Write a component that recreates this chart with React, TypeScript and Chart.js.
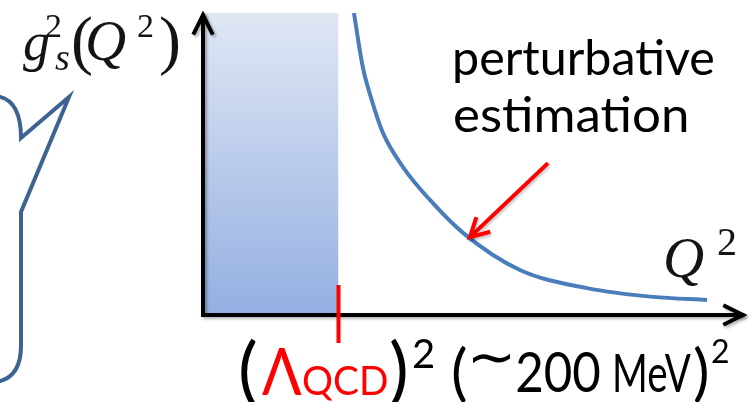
import React, { useEffect, useRef } from "react";
import { Chart, registerables } from "chart.js";

Chart.register(...registerables);

const W = 752;
const H = 402;

// Axis domain (arbitrary units of Q² and g_s²)
const X_RANGE = [0, 4];
const Y_RANGE = [0, 10];

// Position of the confinement scale (Λ_QCD)² on the Q² axis
const LAMBDA_QCD_SQ = 1;

// Running coupling g_s²(Q²) in the perturbative region
const curveQ2 = [1.114, 1.179, 1.245, 1.328, 1.476, 1.675, 1.919, 2.339, 2.834, 3.321, 3.72];
const curveG2 = [10.0, 8.22, 7.12, 6.03, 4.9, 3.81, 2.72, 1.49, 0.89, 0.6, 0.5];

// Annotation arrow pointing onto the curve (Q², g_s²)
const arrowFrom = [2.546, 5.03];
const arrowTo = [1.97, 2.58];

const noteLines = ["perturbative", "estimation"];

const CALIBRI = "Lato, 'Open Sans', sans-serif";
const SERIF = "'Liberation Serif', 'DejaVu Serif', serif";

// Draws text with its ink starting at x; optionally squeezes it to a given ink width.
function put(
  ctx: CanvasRenderingContext2D,
  text: string,
  x: number,
  base: number,
  font: string,
  color: string,
  width?: number
) {
  ctx.save();
  ctx.font = font;
  ctx.fillStyle = color;
  ctx.textAlign = "left";
  ctx.textBaseline = "alphabetic";
  const m = ctx.measureText(text);
  const ink = m.actualBoundingBoxLeft + m.actualBoundingBoxRight;
  ctx.translate(x, base);
  if (width && ink > 0) ctx.scale(width / ink, 1);
  ctx.fillText(text, m.actualBoundingBoxLeft, 0);
  ctx.restore();
}

function chevron(ctx: CanvasRenderingContext2D, tx: number, ty: number, ang: number, len: number, spread: number) {
  const a1 = ang + Math.PI - spread;
  const a2 = ang + Math.PI + spread;
  ctx.beginPath();
  ctx.moveTo(tx + len * Math.cos(a1), ty + len * Math.sin(a1));
  ctx.lineTo(tx, ty);
  ctx.lineTo(tx + len * Math.cos(a2), ty + len * Math.sin(a2));
  ctx.stroke();
}

const decorPlugin = {
  id: "decor",
  afterDatasetsDraw(chart: any) {
    const ctx: CanvasRenderingContext2D = chart.ctx;
    const area = chart.chartArea;
    const xs = chart.scales.x;
    const ys = chart.scales.y;
    const x0 = xs.getPixelForValue(X_RANGE[0]);
    const y0 = ys.getPixelForValue(Y_RANGE[0]);

    // axes with open arrowheads
    ctx.save();
    ctx.strokeStyle = "#000";
    ctx.lineWidth = 4;
    ctx.lineJoin = "miter";
    ctx.lineCap = "butt";
    ctx.shadowColor = "rgba(0,0,0,0.3)";
    ctx.shadowBlur = 3;
    ctx.shadowOffsetX = 2;
    ctx.shadowOffsetY = 2;
    ctx.beginPath();
    ctx.moveTo(x0, y0 + 2);
    ctx.lineTo(x0, area.top + 1);
    ctx.moveTo(x0 - 2, y0);
    ctx.lineTo(area.right - 1, y0);
    ctx.stroke();
    chevron(ctx, x0, area.top + 2, -Math.PI / 2, 22, 0.46);
    chevron(ctx, area.right - 2, y0, 0, 22, 0.46);
    ctx.restore();

    // (Λ_QCD)² tick
    const lx = xs.getPixelForValue(LAMBDA_QCD_SQ);
    ctx.save();
    ctx.strokeStyle = "#ff0000";
    ctx.lineWidth = 4;
    ctx.beginPath();
    ctx.moveTo(lx, y0 - 30);
    ctx.lineTo(lx, y0 + 28);
    ctx.stroke();
    ctx.restore();

    // red arrow onto the curve
    const fx = xs.getPixelForValue(arrowFrom[0]);
    const fy = ys.getPixelForValue(arrowFrom[1]);
    const tx = xs.getPixelForValue(arrowTo[0]);
    const ty = ys.getPixelForValue(arrowTo[1]);
    ctx.save();
    ctx.strokeStyle = "#ff0000";
    ctx.lineWidth = 4;
    ctx.lineCap = "butt";
    ctx.lineJoin = "miter";
    ctx.shadowColor = "rgba(0,0,0,0.25)";
    ctx.shadowBlur = 3;
    ctx.shadowOffsetX = 1;
    ctx.shadowOffsetY = 2;
    ctx.beginPath();
    ctx.moveTo(fx, fy);
    ctx.lineTo(tx, ty);
    ctx.stroke();
    chevron(ctx, tx, ty, Math.atan2(ty - fy, tx - fx), 21, 0.5);
    ctx.restore();

    // speech bubble outline on the left
    ctx.save();
    ctx.strokeStyle = "#3d6391";
    ctx.lineWidth = 4;
    ctx.lineJoin = "miter";
    ctx.beginPath();
    ctx.moveTo(-4, 96);
    ctx.quadraticCurveTo(21, 99, 21, 138);
    ctx.lineTo(69, 97);
    ctx.lineTo(21, 212);
    ctx.lineTo(21, 346);
    ctx.quadraticCurveTo(21, 378, -4, 382);
    ctx.stroke();
    ctx.restore();
  },
  afterDraw(chart: any) {
    const ctx: CanvasRenderingContext2D = chart.ctx;

    // axis label g_s²(Q²)
    const ink = "#141414";
    put(ctx, "g", 23, 60, `italic 54px ${SERIF}`, ink);
    put(ctx, "2", 46, 37, `34px ${SERIF}`, ink);
    put(ctx, "s", 55, 70, `italic 38px ${SERIF}`, ink);
    put(ctx, "(", 73, 62, `66px ${SERIF}`, ink);
    put(ctx, "Q", 88, 60, `italic 57px ${SERIF}`, ink);
    put(ctx, "2", 138, 37, `34px ${SERIF}`, ink);
    put(ctx, ")", 161, 62, `66px ${SERIF}`, ink);

    // axis label Q²
    put(ctx, "Q", 666, 277, `italic 57px ${SERIF}`, ink);
    put(ctx, "2", 718, 255, `40px ${SERIF}`, ink);

    // note text
    put(ctx, noteLines[0], 455, 75, `49px ${CALIBRI}`, "#000", 258);
    put(ctx, noteLines[1], 455, 132, `49px ${CALIBRI}`, "#000", 232);

    // (Λ_QCD)² (∼200 MeV)²
    put(ctx, "(", 241, 396, `74px ${CALIBRI}`, "#000");
    put(ctx, "Λ", 262, 395, `66px ${CALIBRI}`, "#ff0000", 40);
    put(ctx, "QCD", 303, 395, `40px ${CALIBRI}`, "#ff0000", 84);
    put(ctx, ")", 391, 396, `74px ${CALIBRI}`, "#000");
    put(ctx, "2", 413, 368, `40px ${CALIBRI}`, "#000", 20);

    put(ctx, "(", 453, 394, `62px ${CALIBRI}`, "#000");
    put(ctx, "∼", 472, 376, `56px 'DejaVu Sans', sans-serif`, "#000", 38);
    put(ctx, "200", 517, 392, `57px ${CALIBRI}`, "#000", 83);
    put(ctx, "MeV", 615, 392, `53px ${CALIBRI}`, "#000", 76);
    put(ctx, ")", 694, 394, `62px ${CALIBRI}`, "#000");
    put(ctx, "2", 712, 363, `32px ${CALIBRI}`, "#000", 16);
  },
};

export default function App() {
  const canvasRef = useRef<HTMLCanvasElement | null>(null);

  useEffect(() => {
    const canvas = canvasRef.current;
    if (!canvas) return;

    const curve = curveQ2.map((q, i) => ({ x: q, y: curveG2[i] }));
    const region = [
      { x: X_RANGE[0], y: Y_RANGE[1] },
      { x: LAMBDA_QCD_SQ, y: Y_RANGE[1] },
    ];

    const chart = new Chart(canvas, {
      type: "scatter",
      data: {
        datasets: [
          {
            data: region,
            showLine: true,
            fill: "origin",
            borderWidth: 0,
            borderColor: "rgba(0,0,0,0)",
            pointRadius: 0,
            backgroundColor: (c: any) => {
              const area = c.chart.chartArea;
              if (!area) return "#c0cfee";
              const g = c.chart.ctx.createLinearGradient(0, area.top, 0, area.bottom);
              g.addColorStop(0, "#e0e7f4");
              g.addColorStop(1, "#94afe2");
              return g;
            },
          },
          {
            data: curve,
            showLine: true,
            borderColor: "#4a7ebb",
            borderWidth: 4,
            pointRadius: 0,
            cubicInterpolationMode: "monotone",
            fill: false,
          },
        ],
      },
      options: {
        animation: false,
        responsive: false,
        devicePixelRatio: 1,
        layout: { padding: { left: 203, right: 7, top: 13, bottom: 87 } },
        plugins: { legend: { display: false }, tooltip: { enabled: false } },
        scales: {
          x: { type: "linear", min: X_RANGE[0], max: X_RANGE[1], display: false },
          y: { type: "linear", min: Y_RANGE[0], max: Y_RANGE[1], display: false },
        },
      },
      plugins: [decorPlugin],
    } as any);

    return () => chart.destroy();
  }, []);

  return (
    <div style={{ position: "fixed", left: 0, top: 0, width: W, height: H, background: "#fff" }}>
      <canvas ref={canvasRef} width={W} height={H} style={{ display: "block" }} />
    </div>
  );
}
